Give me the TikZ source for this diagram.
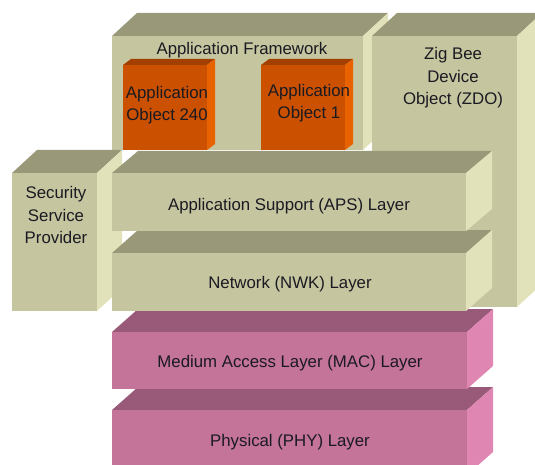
\documentclass[tikz,border=0pt]{standalone}
\usepackage{fontspec}
\setmainfont{Liberation Sans}
\definecolor{khfront}{HTML}{C5C5A0}
\definecolor{khtop}{HTML}{999979}
\definecolor{khside}{HTML}{E2E2BA}
\definecolor{pkfront}{HTML}{C47399}
\definecolor{pktop}{HTML}{985A78}
\definecolor{pkside}{HTML}{E086B2}
\definecolor{orfront}{HTML}{CB5000}
\definecolor{ortop}{HTML}{A34000}
\definecolor{orside}{HTML}{E86300}
\definecolor{txt}{HTML}{1A1A22}
\newcommand\zcube[7]{%
  \fill[#7top] (#1,#2) -- (#1+#5,#2-#6) -- (#3+#5,#2-#6) -- (#3,#2) -- cycle;
  \fill[#7side] (#3,#2) -- (#3+#5,#2-#6) -- (#3+#5,#4-#6) -- (#3,#4) -- cycle;
  \fill[#7front] (#1,#2) rectangle (#3,#4);
}
\tikzset{lbl/.style={text=txt,align=center,inner sep=0pt,font=\fontsize{16.8}{22.5}\selectfont}}
\begin{document}
\begin{tikzpicture}[x=1pt,y=-1pt]
\useasboundingbox (0,0) rectangle (535,465);
\clip (0,0) rectangle (535,465);
% application framework
\zcube{112}{36}{363}{150}{25}{23}{kh}
% application objects
\zcube{123}{65}{207}{150}{8}{6}{or}
\zcube{261}{65}{345}{150}{8}{6}{or}
% ZDO
\zcube{372}{36}{517}{307}{25}{23}{kh}
% security service provider
\zcube{12}{173}{97}{311}{25}{23}{kh}
% stack layers, bottom first
\zcube{112}{410}{467}{475}{26}{23}{pk}
\zcube{112}{332}{467}{389}{26}{23}{pk}
\zcube{112}{253}{466}{311}{26}{23}{kh}
\zcube{112}{173}{466}{231}{26}{22}{kh}
% labels
\node[lbl] (af)   at (242,50)  {Application Framework};
\node[lbl] (ao240) at (167,105) {Application\\Object 240};
\node[lbl] (ao1)  at (309,103) {Application\\Object 1};
\node[lbl] (zdo)  at (453,78)  {Zig Bee\\Device\\Object (ZDO)};
\node[lbl] (ssp)  at (56,215)  {Security\\Service\\Provider};
\node[lbl] (aps)  at (289,206) {Application Support (APS) Layer};
\node[lbl] (nwk)  at (290,284) {Network (NWK) Layer};
\node[lbl] (mac)  at (290,363) {Medium Access Layer (MAC) Layer};
\node[lbl] (phy)  at (290,442) {Physical (PHY) Layer};
\end{tikzpicture}
\end{document}
